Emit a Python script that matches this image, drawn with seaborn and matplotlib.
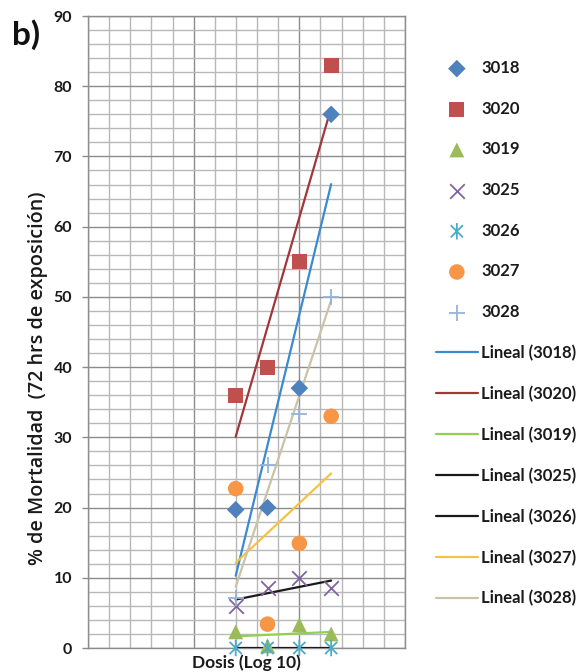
import numpy as np
import pandas as pd
import matplotlib
matplotlib.use("Agg")
import matplotlib.pyplot as plt
from matplotlib.path import Path
from matplotlib.ticker import MultipleLocator, NullFormatter
import seaborn as sns

# Doses applied and the mortality observed for each strain
dosis = [25, 50, 100, 200]
cepas = ["3018", "3020", "3019", "3025", "3026", "3027", "3028"]
m3018 = [19.7, 20.0, 37.0, 76.0]
m3020 = [36.0, 40.0, 55.0, 83.0]
m3019 = [2.3, 0.3, 3.3, 2.0]
m3025 = [6.0, 8.5, 10.0, 8.5]
m3026 = [0.0, 0.0, 0.0, 0.0]
m3027 = [22.7, 3.4, 14.9, 33.0]
m3028 = [7.1, 26.1, 33.3, 50.0]
mortalidad = [m3018, m3020, m3019, m3025, m3026, m3027, m3028]

# Excel-like marker colours and trendline colours
col_pts = ["#4F81BD", "#C0504D", "#9BBB59", "#8064A2", "#4BACC6", "#F79646", "#95B3D7"]
col_lin = ["#3B8AD0", "#A0373A", "#92D050", "#1A1A1A", "#1A1A1A", "#F5C242", "#C9C3A8"]

# asterisk marker: an x crossed by a vertical bar
star = Path([(-1, -1), (1, 1), (-1, 1), (1, -1), (0, -1.35), (0, 1.35)],
            [Path.MOVETO, Path.LINETO] * 3)
marcadores = ["D", "s", "^", "x", star, "o", "+"]
tamanos = [80, 115, 115, 110, 140, 125, 120]

sns.set_theme(style="white")
plt.rcParams["font.family"] = ["Lato", "DejaVu Sans"]

W, H = 581, 672
fig = plt.figure(figsize=(W / 100, H / 100), dpi=100)
L, R, T, B = 88, 405, 16, 648
ax = fig.add_axes([L / W, 1 - B / H, (R - L) / W, (B - T) / H])

x = np.log10(dosis)
df = pd.DataFrame({"x": np.tile(x, len(cepas)),
                   "y": np.concatenate(mortalidad),
                   "cepa": np.repeat(cepas, len(x))})

pts, lns = [], []
for i, c in enumerate(cepas):
    sub = df[df.cepa == c]
    sns.regplot(data=sub, x="x", y="y", ax=ax, scatter=False, ci=None,
                truncate=True,
                line_kws=dict(color=col_lin[i], lw=1.6, zorder=3,
                              label=f"Lineal ({c})"))
    lns.append(ax.lines[-1])
for i, c in enumerate(cepas):
    sub = df[df.cepa == c]
    m = marcadores[i]
    if m is star:
        kw = dict(facecolor="none", edgecolor=col_pts[i], linewidth=1.3)
    elif m in ("x", "+"):
        kw = dict(linewidth=1.3)
    else:
        kw = dict(edgecolor="none", linewidth=0)
    sns.scatterplot(data=sub, x="x", y="y", ax=ax, marker=m, s=tamanos[i],
                    color=col_pts[i], zorder=4, label=c, legend=False,
                    clip_on=False, **kw)
    pts.append(ax.collections[-1])

ax.set_xlim(0, 3)
ax.set_ylim(0, 90)
ax.xaxis.set_major_locator(MultipleLocator(1))
ax.xaxis.set_minor_locator(MultipleLocator(0.2))
ax.yaxis.set_major_locator(MultipleLocator(10))
ax.yaxis.set_minor_locator(MultipleLocator(2))
ax.xaxis.set_major_formatter(NullFormatter())
ax.grid(True, which="major", color="#8C8C8C", lw=1.0, zorder=0)
ax.grid(True, which="minor", color="#B8B8B8", lw=1.0, zorder=0)
ax.set_axisbelow(True)
for s in ax.spines.values():
    s.set_color("#8C8C8C")
    s.set_linewidth(1.0)
ax.tick_params(axis="x", which="both", length=0)
ax.tick_params(axis="y", which="major", direction="out", length=4.5,
               width=1.0, color="#8C8C8C", left=True, pad=7,
               labelsize=11.5, labelcolor="#1A1A1A")
ax.tick_params(axis="y", which="minor", length=0)
for t in ax.get_yticklabels():
    t.set_fontweight("bold")
ax.set_xlabel("")
ax.set_ylabel("")

fig.text(246 / W, 1 - 663 / H, "Dosis (Log 10)", ha="center", va="center",
         fontsize=12.5, fontweight="bold", color="#1A1A1A")
fig.text(38 / W, 1 - 378 / H, "% de Mortalidad  (72 hrs de exposición)",
         rotation=90, ha="center", va="center", fontsize=14.2,
         fontweight="semibold", color="#1A1A1A",
         family=["Open Sans", "DejaVu Sans"])
fig.text(26 / W, 1 - 35 / H, "b)", ha="center", va="center", fontsize=24,
         fontweight="bold", color="#111111")

leg = fig.legend(pts + lns, cepas + [f"Lineal ({c})" for c in cepas],
                 loc="upper left", bbox_to_anchor=(436 / W, 1 - 60 / H),
                 frameon=False, fontsize=12, scatterpoints=1,
                 handlelength=2.5, handletextpad=0.22, labelspacing=1.48,
                 borderpad=0, borderaxespad=0)
for t in leg.get_texts():
    t.set_fontweight("bold")
    t.set_color("#1A1A1A")

fig.savefig("out.png", dpi=100)
